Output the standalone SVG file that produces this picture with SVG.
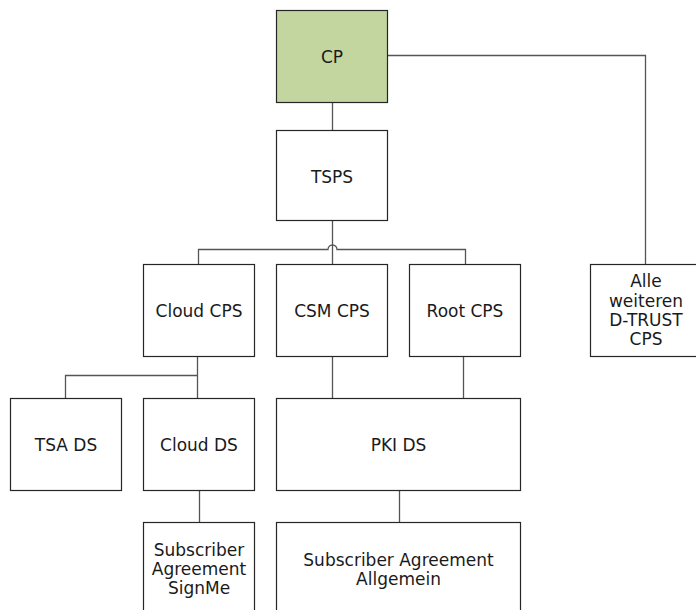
<svg xmlns="http://www.w3.org/2000/svg" width="696" height="610" viewBox="0 0 696 610">
<style>
.box{fill:#ffffff;stroke:#262626;stroke-width:1.2}
.cp{fill:#c4d6a0}
.ln{fill:none;stroke:#555555;stroke-width:1.3}
text{font-family:"DejaVu Sans",Verdana,sans-serif;font-size:17px;fill:#1a1a1a;text-anchor:middle}
</style>
<rect width="696" height="610" fill="#ffffff"/>
<g id="connectors">
<path class="ln" d="M332.5 102.5 V130.5"/>
<path class="ln" d="M387.5 55.5 H645.5 V264.5"/>
<path class="ln" d="M332.5 220.5 V264.5"/>
<path class="ln" d="M198.5 264.5 V249.5 H328 A4.5 4.5 0 0 1 337 249.5 H465.5 V264.5"/>
<path class="ln" d="M197.5 356.5 V398.5 M197.5 375.5 H65.5 V398.5"/>
<path class="ln" d="M332.5 356.5 V398.5"/>
<path class="ln" d="M463.5 356.5 V398.5"/>
<path class="ln" d="M199.5 490.5 V522.5"/>
<path class="ln" d="M399.5 490.5 V522.5"/>
</g>
<g id="cp"><rect class="box cp" x="276.5" y="10.5" width="111" height="92"/><text x="332" y="62.5">CP</text></g>
<g id="tsps"><rect class="box" x="276.5" y="130.5" width="111" height="90"/><text x="332" y="182.5">TSPS</text></g>
<g id="cloudcps"><rect class="box" x="143.5" y="264.5" width="111" height="92"/><text x="199" y="317">Cloud CPS</text></g>
<g id="csmcps"><rect class="box" x="276.5" y="264.5" width="111" height="92"/><text x="332" y="317">CSM CPS</text></g>
<g id="rootcps"><rect class="box" x="409.5" y="264.5" width="111" height="92"/><text x="465" y="317">Root CPS</text></g>
<g id="alle"><rect class="box" x="590.5" y="264.5" width="111" height="92"/><text x="646" y="287">Alle</text><text x="646" y="306.5">weiteren</text><text x="646" y="326">D-TRUST</text><text x="646" y="345">CPS</text></g>
<g id="tsads"><rect class="box" x="10.5" y="398.5" width="111" height="92"/><text x="66" y="451">TSA DS</text></g>
<g id="cloudds"><rect class="box" x="143.5" y="398.5" width="111" height="92"/><text x="199" y="451">Cloud DS</text></g>
<g id="pkids"><rect class="box" x="276.5" y="398.5" width="244" height="92"/><text x="398.5" y="451">PKI DS</text></g>
<g id="signme"><rect class="box" x="143.5" y="522.5" width="111" height="100"/><text x="199" y="556">Subscriber</text><text x="199" y="575">Agreement</text><text x="199" y="594">SignMe</text></g>
<g id="allgemein"><rect class="box" x="276.5" y="522.5" width="244" height="100"/><text x="398.5" y="566">Subscriber Agreement</text><text x="398.5" y="585">Allgemein</text></g>
</svg>
